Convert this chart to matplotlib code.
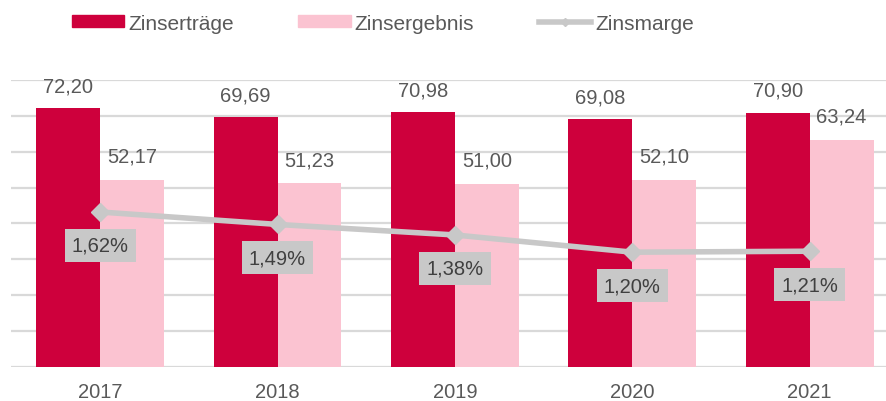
import numpy as np
import matplotlib.pyplot as plt
from matplotlib.patches import Patch
from matplotlib.lines import Line2D

plt.rcParams['font.family'] = ['Liberation Sans', 'DejaVu Sans']

years = ['2017', '2018', '2019', '2020', '2021']
zinsertraege = [72.20, 69.69, 70.98, 69.08, 70.90]
zinsergebnis = [52.17, 51.23, 51.00, 52.10, 63.24]
zinsmarge = [1.62, 1.49, 1.38, 1.20, 1.21]

red = '#CE003C'
pink = '#FBC3D1'
grey = '#C8C8C8'
txt = '#595959'

fig = plt.figure(figsize=(8.86, 4.02), dpi=100)
ax = fig.add_axes([0.0129, 0.0846, 0.9871, 0.714])
x = np.arange(len(years))
w = 0.36

ax.bar(x - w, zinsertraege, w, align='edge', color=red, zorder=2)
ax.bar(x, zinsergebnis, w, align='edge', color=pink, zorder=2)

# data labels above the bars
for xi, v in zip(x, zinsertraege):
    ax.annotate(f'{v:.2f}'.replace('.', ','), (xi - w / 2, v), xytext=(0, 16),
                textcoords='offset points', ha='center', va='center',
                fontsize=14.5, color=txt)
for xi, v in zip(x, zinsergebnis):
    ax.annotate(f'{v:.2f}'.replace('.', ','), (xi + w / 2, v), xytext=(0, 17),
                textcoords='offset points', ha='center', va='center',
                fontsize=14.5, color=txt)

ax.set_ylim(0, 80)
ax.set_xlim(-0.5, 4.43)
ax.set_yticks(np.arange(0, 81, 10))
ax.yaxis.grid(True, color='#D9D9D9', lw=1.6, zorder=0)
ax.set_axisbelow(True)
ax.set_xticks(x)
ax.set_xticklabels(years)
for s in ax.spines.values():
    s.set_visible(False)

ax2 = ax.twinx()
ax2.plot(x, zinsmarge, color=grey, lw=4, marker='D', ms=9, zorder=3)
for xi, v in zip(x, zinsmarge):
    ax2.annotate(f'{v:.2f}%'.replace('.', ','), (xi, v), xytext=(0, -24),
                 textcoords='offset points', ha='center', va='center',
                 fontsize=14.5, color='#404040',
                 bbox=dict(boxstyle='square,pad=0.35', fc=grey, ec='none'))
ax2.set_ylim(0, 3.0)
ax2.axis('off')

ax.tick_params(axis='y', left=False, right=False, labelleft=False)
ax.tick_params(axis='x', length=0, labelsize=14.5, labelcolor=txt, pad=11)

handles = [Patch(color=red), Patch(color=pink),
           Line2D([], [], color=grey, lw=4, marker='D', ms=4)]
fig.legend(handles, ['Zinserträge', 'Zinsergebnis', 'Zinsmarge'],
           loc='center left', bbox_to_anchor=(72 / 886, 1 - 24 / 402), ncol=3,
           frameon=False, fontsize=15, labelcolor=txt, handlelength=2.5,
           handleheight=0.53, handletextpad=0.2, columnspacing=3.1,
           borderpad=0, borderaxespad=0)

fig.savefig('out.png', dpi=100)
